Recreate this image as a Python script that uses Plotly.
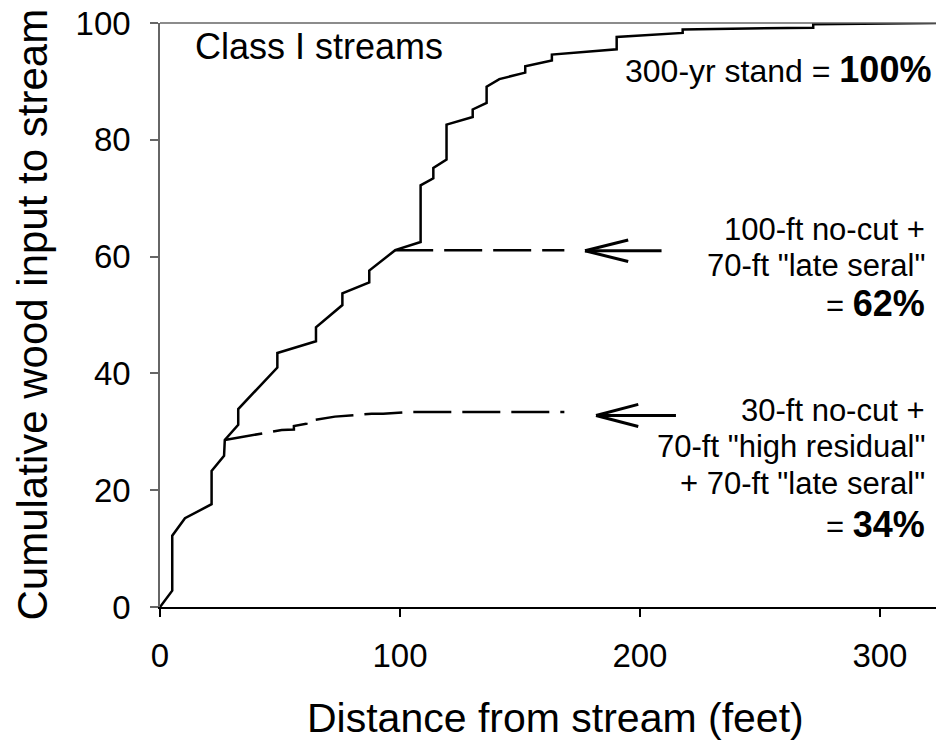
import plotly.graph_objects as go

# ---- data ----
# 300-yr stand cumulative curve (distance ft, cumulative %)
full_x = [0, 5.1, 5.1, 10.4, 21.5, 21.5, 26.7, 27.0, 32.6, 32.6, 48.9, 48.9, 65.0, 65.0,
          76.0, 76.0, 87.2, 87.2, 98.0, 108.6, 108.6, 113.9, 113.9, 119.4, 119.4, 130.3,
          130.3, 136.1, 136.1, 141.4, 152.2, 152.2, 163.3, 163.3, 190.3, 190.3, 217.8,
          217.8, 272.2, 272.2, 326.7]
full_y = [0, 2.8, 12.2, 15.2, 17.6, 23.3, 25.9, 28.6, 31.2, 33.9, 41.0, 43.5, 45.5, 47.9,
          51.7, 53.7, 55.6, 57.6, 61.1, 62.5, 72.2, 73.4, 75.2, 76.6, 82.6, 83.9,
          85.2, 86.3, 89.1, 90.4, 91.5, 92.6, 93.6, 94.6, 95.5, 97.6, 98.3,
          98.9, 99.2, 99.8, 100.0]

# 100-ft no-cut + 70-ft late seral
opt100_x = [98.0, 168.5]
opt100_y = [61.1, 61.1]

# 30-ft no-cut + 70-ft high residual + 70-ft late seral
opt30_x = [27.0, 36.1, 50.7, 55.8, 55.8, 61.0, 61.0, 72.9, 88.2, 93.0, 104.0, 168.5]
opt30_y = [28.6, 29.3, 30.3, 30.4, 31.0, 31.4, 31.8, 32.6, 33.1, 33.1, 33.4, 33.4]

x_ticks = [0, 100, 200, 300]
y_ticks = [0, 20, 40, 60, 80, 100]
x_title = "Distance from stream (feet)"
y_title = "Cumulative wood input to stream"

FONT = "Arial, Liberation Sans, Helvetica, sans-serif"

fig = go.Figure()
fig.add_trace(go.Scatter(x=full_x, y=full_y, mode="lines",
                         line=dict(color="black", width=2.5), showlegend=False))
fig.add_trace(go.Scatter(x=opt100_x, y=opt100_y, mode="lines",
                         line=dict(color="black", width=2.5, dash="38px,11px"), showlegend=False))
fig.add_trace(go.Scatter(x=opt30_x, y=opt30_y, mode="lines",
                         line=dict(color="black", width=2.5, dash="38px,11px"), showlegend=False))

# arrows (tip x, tail x, y, barb x, barb half-height) in data units
arrows = [
    (177.1, 209.0, 61.0, 195.1, 1.85),
    (181.7, 215.0, 32.8, 199.3, 1.9),
]
for tip, tail, y, bx, bh in arrows:
    for (x0, y0, x1, y1) in [(tip, y, tail, y), (tip, y, bx, y + bh), (tip, y, bx, y - bh)]:
        fig.add_shape(type="line", xref="x", yref="y", x0=x0, y0=y0, x1=x1, y1=y1,
                      line=dict(color="black", width=3))

# top border line
fig.add_shape(type="line", xref="paper", yref="paper", x0=0, x1=1, y0=1, y1=1,
              line=dict(color="#666666", width=1.5))

def ann(text, x, y, size, xanchor="right"):
    fig.add_annotation(x=x, y=y, xref="x", yref="y", text=text, showarrow=False,
                       xanchor=xanchor, yanchor="middle",
                       font=dict(family=FONT, size=size, color="black"))

ann("Class I streams", 13.75, 95.9, 36, xanchor="left")
ann("300-yr stand = <b><span style='font-size:36px'>100%</span></b>", 322, 92.1, 32)
ann("100-ft no-cut +", 319.6, 64.7, 31)
ann("70-ft \"late seral\"", 319.6, 58.5, 31)
ann("= <b><span style='font-size:36px'>62%</span></b>", 319.6, 51.9, 31)
ann("30-ft no-cut +", 319.6, 33.6, 31)
ann("70-ft \"high residual\"", 319.6, 27.4, 31)
ann("+ 70-ft \"late seral\"", 319.6, 21.1, 31)
ann("= <b><span style='font-size:36px'>34%</span></b>", 319.6, 14.2, 31)

# axis titles placed as paper-anchored text
fig.add_annotation(x=0.505, y=-0.1896, xref="paper", yref="paper", text=x_title,
                   showarrow=False, xanchor="center", yanchor="middle",
                   font=dict(family=FONT, size=41, color="black"))
fig.add_annotation(x=-0.1639, y=0.5, xref="paper", yref="paper", text=y_title,
                   showarrow=False, xanchor="center", yanchor="middle", textangle=-90,
                   font=dict(family=FONT, size=42, color="black"))

# page body has an 8px default margin, so the figure is drawn 8px smaller
fig.update_layout(
    width=936, height=736,
    margin=dict(l=152, r=0, t=15, b=137, autoexpand=False),
    paper_bgcolor="white", plot_bgcolor="white",
    font=dict(family=FONT, color="black"),
    xaxis=dict(range=[0, 326.7], tickvals=x_ticks, ticks="outside", ticklen=8,
               tickwidth=1.5, tickcolor="black", showline=True, linecolor="black",
               linewidth=1.5, showgrid=False, zeroline=False,
               tickfont=dict(size=33, family=FONT), ticklabelstandoff=11,
               ticklabeloverflow="allow"),
    yaxis=dict(range=[0, 100], tickvals=y_ticks, ticks="outside", ticklen=8,
               tickwidth=1.5, tickcolor="#666666", showline=True, linecolor="#666666",
               linewidth=1.5, showgrid=False, zeroline=False,
               tickfont=dict(size=33, family=FONT), ticklabelstandoff=13,
               ticklabeloverflow="allow"),
)

fig.write_html("out.html")
